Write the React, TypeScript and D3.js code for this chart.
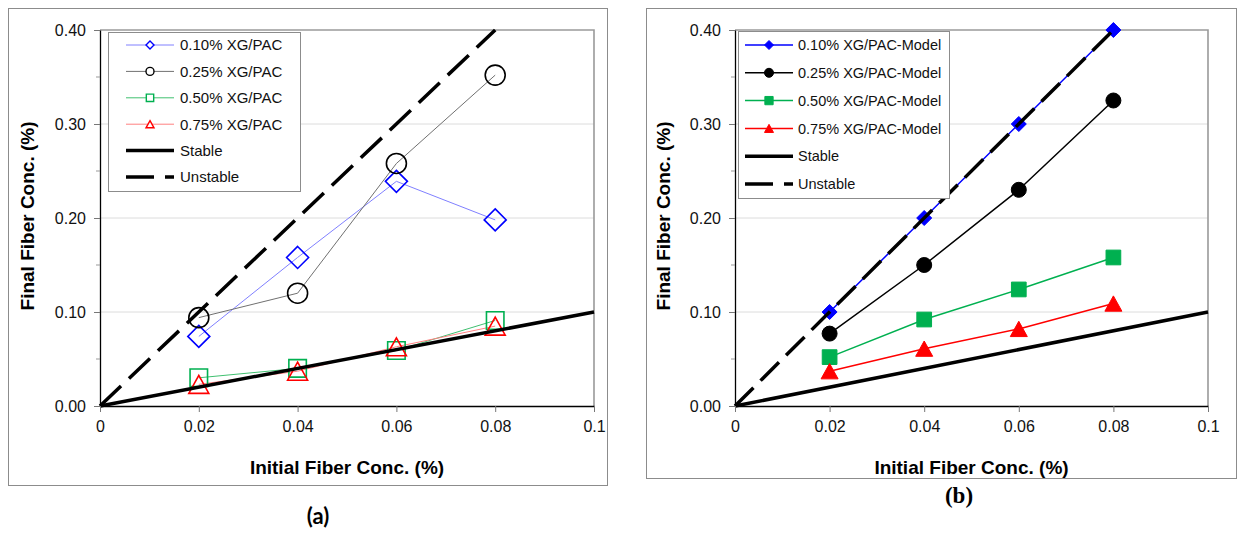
import React, { useEffect, useRef } from "react";
import * as d3 from "d3";

// values
const initialConc = [0.02, 0.04, 0.06, 0.08];

const measuredNames = ["0.10% XG/PAC", "0.25% XG/PAC", "0.50% XG/PAC", "0.75% XG/PAC"];
const measured010 = [0.074, 0.158, 0.239, 0.198];
const measured025 = [0.094, 0.12, 0.258, 0.352];
const measured050 = [0.03, 0.04, 0.059, 0.091];
const measured075 = [0.023, 0.037, 0.063, 0.085];

const modelNames = [
  "0.10% XG/PAC-Model",
  "0.25% XG/PAC-Model",
  "0.50% XG/PAC-Model",
  "0.75% XG/PAC-Model",
];
const model010 = [0.1, 0.2, 0.3, 0.4];
const model025 = [0.077, 0.15, 0.23, 0.325];
const model050 = [0.052, 0.092, 0.124, 0.158];
const model075 = [0.037, 0.061, 0.082, 0.109];

const stableX = [0, 0.1];
const stableY = [0, 0.1];
const unstableX = [0, 0.08];
const unstableY = [0, 0.4];
const refNames = ["Stable", "Unstable"];

const xTicks = [0, 0.02, 0.04, 0.06, 0.08, 0.1];
const xTickLabels = ["0", "0.02", "0.04", "0.06", "0.08", "0.1"];
const yTicks = [0, 0.1, 0.2, 0.3, 0.4];
const yTickLabels = ["0.00", "0.10", "0.20", "0.30", "0.40"];
const yMinorTicks = [0.05, 0.15, 0.25, 0.35];
const xTitle = "Initial Fiber Conc. (%)";
const yTitle = "Final Fiber Conc. (%)";

// styles
const markerColors = ["#0000ff", "#000000", "#00b050", "#ff0000"];
const measuredLineColors = ["#8080ff", "#707070", "#40c070", "#ff8080"];
const shapes = ["diamond", "circle", "square", "triangle"];
const FONT = "Liberation Sans, Arial, Helvetica, sans-serif";

function markerPath(shape, r) {
  if (shape === "diamond") return `M0,${-r}L${r},0L0,${r}L${-r},0Z`;
  if (shape === "circle")
    return `M${r},0A${r},${r} 0 1 1 ${-r},0A${r},${r} 0 1 1 ${r},0Z`;
  if (shape === "square") {
    const s = r * 0.92;
    return `M${-s},${-s}H${s}V${s}H${-s}Z`;
  }
  const h = r * 0.9;
  return `M0,${-h}L${r},${h}L${-r},${h}Z`;
}

function drawPanel(svg, cfg) {
  const { frame, plot, legend } = cfg;
  const g = svg.append("g");

  g.append("rect")
    .attr("x", frame[0] + 0.5)
    .attr("y", frame[1] + 0.5)
    .attr("width", frame[2] - frame[0])
    .attr("height", frame[3] - frame[1])
    .attr("fill", "#fff")
    .attr("stroke", "#8c8c8c");

  const x = d3.scaleLinear().domain([0, 0.1]).range([plot.left, plot.right]);
  const y = d3.scaleLinear().domain([0, 0.4]).range([plot.bottom, plot.top]);

  // gridlines
  g.append("g")
    .selectAll("line")
    .data(yTicks.slice(1, -1))
    .join("line")
    .attr("x1", plot.left)
    .attr("x2", plot.right)
    .attr("y1", (d) => y(d))
    .attr("y2", (d) => y(d))
    .attr("stroke", "#dcdcdc");

  // plot area border (top, right)
  g.append("path")
    .attr("d", `M${plot.left},${plot.top}H${plot.right}V${plot.bottom}`)
    .attr("fill", "none")
    .attr("stroke", "#9a9a9a")
    .attr("stroke-width", 1.6);

  const line = d3
    .line()
    .x((d) => x(d[0]))
    .y((d) => y(d[1]));

  const series = cfg.values.map((vals) => initialConc.map((c, i) => [c, vals[i]]));

  // series lines
  series.forEach((pts, i) => {
    g.append("path")
      .attr("d", line(pts))
      .attr("fill", "none")
      .attr("stroke", cfg.lineColors[i])
      .attr("stroke-width", cfg.lineWidth);
  });

  // markers
  series.forEach((pts, i) => {
    g.append("g")
      .selectAll("path")
      .data(pts)
      .join("path")
      .attr("transform", (d) => `translate(${x(d[0])},${y(d[1])})`)
      .attr("d", markerPath(shapes[i], cfg.markerR[i]))
      .attr("fill", cfg.filled ? markerColors[i] : "none")
      .attr("stroke", markerColors[i])
      .attr("stroke-width", cfg.filled ? 1 : 1.6);
  });

  // stable / unstable reference lines
  g.append("path")
    .attr("d", line(stableX.map((v, i) => [v, stableY[i]])))
    .attr("fill", "none")
    .attr("stroke", "#000")
    .attr("stroke-width", 3.5);
  g.append("path")
    .attr("d", line(unstableX.map((v, i) => [v, unstableY[i]])))
    .attr("fill", "none")
    .attr("stroke", "#000")
    .attr("stroke-width", 3.5)
    .attr("stroke-dasharray", cfg.dash);

  // axes
  const yAxisG = g
    .append("g")
    .attr("transform", `translate(${plot.left},0)`)
    .call(
      d3
        .axisLeft(y)
        .tickValues(yTicks)
        .tickFormat((d, i) => yTickLabels[i])
        .tickSize(6)
        .tickSizeOuter(0)
        .tickPadding(8)
    );
  g.append("g")
    .selectAll("line")
    .data(yMinorTicks)
    .join("line")
    .attr("x1", plot.left - 4)
    .attr("x2", plot.left)
    .attr("y1", (d) => y(d))
    .attr("y2", (d) => y(d))
    .attr("stroke", "#999");

  const xAxisG = g
    .append("g")
    .attr("transform", `translate(0,${plot.bottom})`)
    .call(
      d3
        .axisBottom(x)
        .tickValues(xTicks)
        .tickFormat((d, i) => xTickLabels[i])
        .tickSize(6)
        .tickSizeOuter(0)
        .tickPadding(9)
    );

  [yAxisG, xAxisG].forEach((a) => {
    a.select(".domain").attr("stroke", "#000").attr("stroke-width", 1.3);
    a.selectAll(".tick line").attr("stroke", "#777");
    a.selectAll(".tick text")
      .attr("fill", "#111")
      .attr("font-family", FONT)
      .attr("font-size", 16);
  });

  // titles
  g.append("text")
    .attr("x", (plot.left + plot.right) / 2)
    .attr("y", cfg.xTitleY)
    .attr("text-anchor", "middle")
    .attr("font-family", FONT)
    .attr("font-size", 19)
    .attr("font-weight", "bold")
    .text(xTitle);
  g.append("text")
    .attr("transform", `translate(${cfg.yTitleX},216) rotate(-90)`)
    .attr("text-anchor", "middle")
    .attr("font-family", FONT)
    .attr("font-size", 19)
    .attr("font-weight", "bold")
    .text(yTitle);

  // legend
  const lg = g.append("g");
  lg.append("rect")
    .attr("x", legend.x + 0.5)
    .attr("y", legend.y + 0.5)
    .attr("width", legend.w)
    .attr("height", legend.h)
    .attr("fill", "#fff")
    .attr("stroke", "#8c8c8c");
  const names = cfg.names.concat(refNames);
  names.forEach((name, i) => {
    const ry = legend.row0 + i * legend.rowGap;
    const row = lg.append("g");
    const sample = row
      .append("line")
      .attr("x1", legend.s0)
      .attr("x2", legend.s1)
      .attr("y1", ry)
      .attr("y2", ry);
    if (i < 4) {
      sample.attr("stroke", cfg.lineColors[i]).attr("stroke-width", cfg.lineWidth);
      row
        .append("path")
        .attr("transform", `translate(${(legend.s0 + legend.s1) / 2},${ry})`)
        .attr("d", markerPath(shapes[i], legend.markerR))
        .attr("fill", cfg.filled ? markerColors[i] : "#fff")
        .attr("stroke", markerColors[i])
        .attr("stroke-width", cfg.filled ? 1 : 1.4);
    } else {
      sample.attr("stroke", "#000").attr("stroke-width", 3.5);
      if (i === 5) sample.attr("stroke-dasharray", "28 11");
    }
    row
      .append("text")
      .attr("x", legend.tx)
      .attr("y", ry)
      .attr("dy", "0.36em")
      .attr("fill", "#111")
      .attr("font-family", FONT)
      .attr("font-size", legend.fontSize)
      .text(name);
  });

  // panel label
  svg
    .append("text")
    .attr("x", cfg.label.x)
    .attr("y", cfg.label.y)
    .attr("text-anchor", "middle")
    .attr("font-family", cfg.label.font)
    .attr("font-size", cfg.label.size)
    .attr("font-weight", "bold")
    .text(cfg.label.text);
}

function App() {
  const ref = useRef(null);

  useEffect(() => {
    const svg = d3.select(ref.current);
    svg.selectAll("*").remove();

    drawPanel(svg, {
      frame: [8, 8, 607, 485],
      plot: { left: 100, right: 594, top: 30, bottom: 406 },
      names: measuredNames,
      values: [measured010, measured025, measured050, measured075],
      lineColors: measuredLineColors,
      lineWidth: 1,
      filled: false,
      markerR: [11, 10, 9.5, 10],
      dash: "29 11",
      xTitleY: 474,
      yTitleX: 34,
      legend: {
        x: 108,
        y: 32,
        w: 192,
        h: 159,
        row0: 45,
        rowGap: 26.4,
        s0: 126,
        s1: 174,
        tx: 180,
        fontSize: 15,
        markerR: 4,
      },
      label: { text: "(a)", x: 318, y: 524, size: 22, font: "Lato, Open Sans, sans-serif" },
    });

    drawPanel(svg, {
      frame: [646, 8, 1236, 478],
      plot: { left: 735, right: 1208, top: 30, bottom: 406 },
      names: modelNames,
      values: [model010, model025, model050, model075],
      lineColors: markerColors,
      lineWidth: 1.5,
      filled: true,
      markerR: [7.5, 7.5, 8, 8.5],
      dash: "26 10",
      xTitleY: 474,
      yTitleX: 670,
      legend: {
        x: 738,
        y: 31,
        w: 211,
        h: 167,
        row0: 45,
        rowGap: 27.8,
        s0: 745,
        s1: 793,
        tx: 798,
        fontSize: 14.5,
        markerR: 4.5,
      },
      label: { text: "(b)", x: 959, y: 503, size: 23, font: "Liberation Serif, Times New Roman, DejaVu Serif, serif" },
    });
  }, []);

  return (
    <svg
      ref={ref}
      width={1241}
      height={535}
      style={{ position: "absolute", left: 0, top: 0, background: "#fff" }}
    />
  );
}

export default App;
